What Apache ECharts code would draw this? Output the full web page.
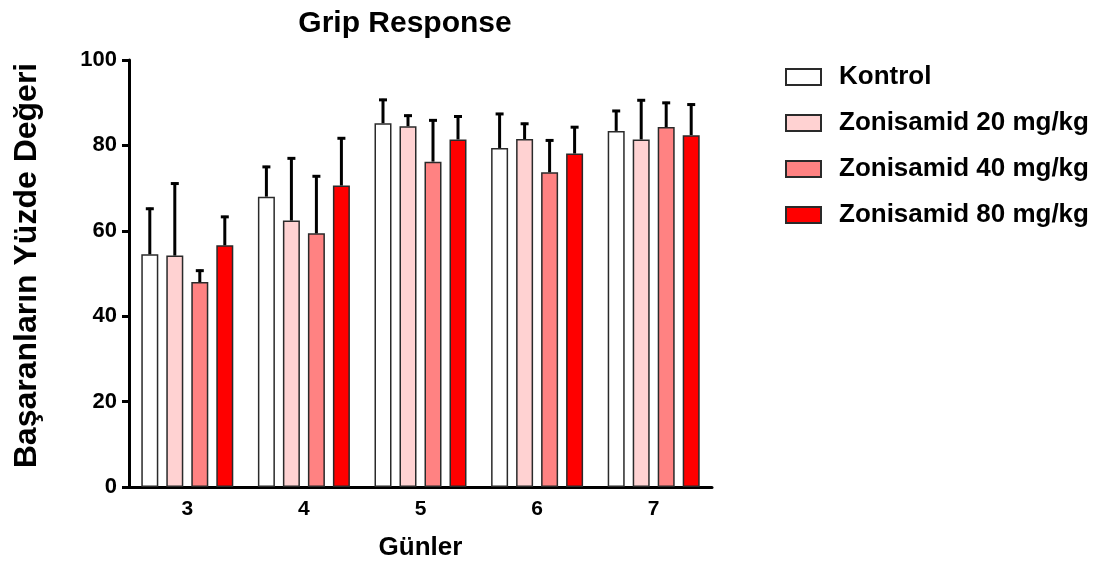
<!DOCTYPE html>
<html>
<head>
<meta charset="utf-8">
<script src="https://cdn.jsdelivr.net/npm/echarts@6/dist/echarts.min.js"></script>
<style>html,body{margin:0;padding:0;background:#fff}#c{width:1097px;height:573px}</style>
</head>
<body>
<div id="c"></div>
<script>
const categories = ['3', '4', '5', '6', '7'];
const seriesNames = ['Kontrol', 'Zonisamid 20 mg/kg', 'Zonisamid 40 mg/kg', 'Zonisamid 80 mg/kg'];
const kontrol = [54.5, 68.0, 85.2, 79.4, 83.4];
const zon20 = [54.2, 62.4, 84.5, 81.5, 81.4];
const zon40 = [48.0, 59.4, 76.2, 73.7, 84.3];
const zon80 = [56.6, 70.6, 81.4, 78.1, 82.4];
const kontrolErr = [10.9, 7.2, 5.7, 8.2, 4.9];
const zon20Err = [17.1, 14.8, 2.7, 3.8, 9.4];
const zon40Err = [2.9, 13.6, 9.9, 7.7, 5.9];
const zon80Err = [6.9, 11.3, 5.6, 6.4, 7.4];
const yTicks = { min: 0, max: 100, interval: 20 };

const means = [kontrol, zon20, zon40, zon80];
const errs = [kontrolErr, zon20Err, zon40Err, zon80Err];
const colors = ['#ffffff', '#ffd2d2', '#ff8282', '#ff0000'];
const BAR_W = 17, GAP = 8;
const FONT = 'Liberation Sans, Arial, sans-serif';

const series = [];
means.forEach((m, i) => {
  series.push({
    name: seriesNames[i], type: 'bar', data: m, barWidth: BAR_W, barGap: (GAP / BAR_W * 100) + '%',
    itemStyle: { color: colors[i], borderColor: '#2a2a2a', borderWidth: 1.5 }
  });
});
means.forEach((m, i) => {
  const offset = (i - 1.5) * (BAR_W + GAP);
  series.push({
    type: 'custom', z: 5, silent: true,
    data: m.map((v, j) => [j, v, errs[i][j]]),
    renderItem: function (params, api) {
      const c = api.value(0), mean = api.value(1), sd = api.value(2);
      const base = api.coord([c, mean]);
      const top = api.coord([c, mean + sd]);
      const x = base[0] + offset;
      return {
        type: 'group', children: [
          { type: 'line', shape: { x1: x, y1: base[1], x2: x, y2: top[1] }, style: { stroke: '#000', lineWidth: 3 } },
          { type: 'line', shape: { x1: x - 4, y1: top[1] + 1, x2: x + 4, y2: top[1] + 1 }, style: { stroke: '#000', lineWidth: 3 } }
        ]
      };
    }
  });
});

const chart = echarts.init(document.getElementById('c'));
chart.setOption({
  animation: false,
  title: {
    text: 'Grip Response', left: 400, top: 4, textAlign: 'center',
    textStyle: { fontFamily: FONT, fontWeight: 'bold', fontSize: 30, color: '#000' }
  },
  legend: {
    data: seriesNames, orient: 'vertical', left: 780, top: 59,
    itemWidth: 35, itemHeight: 16, itemGap: 20, icon: 'rect',
    textStyle: { fontFamily: FONT, fontWeight: 'bold', fontSize: 26, color: '#000', padding: [0, 0, 0, 13] }
  },
  grid: { left: 129, right: 385, top: 60, bottom: 86 },
  xAxis: {
    type: 'category', data: categories,
    name: 'Günler', nameLocation: 'middle', nameGap: 48,
    nameTextStyle: { fontFamily: FONT, fontWeight: 'bold', fontSize: 26, color: '#000' },
    axisLine: { lineStyle: { color: '#000', width: 3 } },
    axisTick: { alignWithLabel: true, length: 7, lineStyle: { color: '#000', width: 3 } },
    axisLabel: { fontFamily: FONT, fontWeight: 'bold', fontSize: 21, color: '#000', margin: 12 }
  },
  yAxis: {
    type: 'value', min: yTicks.min, max: yTicks.max, interval: yTicks.interval,
    name: 'Başaranların Yüzde Değeri', nameLocation: 'middle', nameGap: 86, nameRotate: 90,
    nameTextStyle: { fontFamily: FONT, fontWeight: 'bold', fontSize: 32, color: '#000', padding: [0, 0, 0, 16] },
    axisLine: { show: true, lineStyle: { color: '#000', width: 3 } },
    axisTick: { show: true, length: 7, lineStyle: { color: '#000', width: 3 } },
    splitLine: { show: false },
    axisLabel: { fontFamily: FONT, fontWeight: 'bold', fontSize: 22, color: '#000', margin: 12 }
  },
  series: series
});
</script>
</body>
</html>
